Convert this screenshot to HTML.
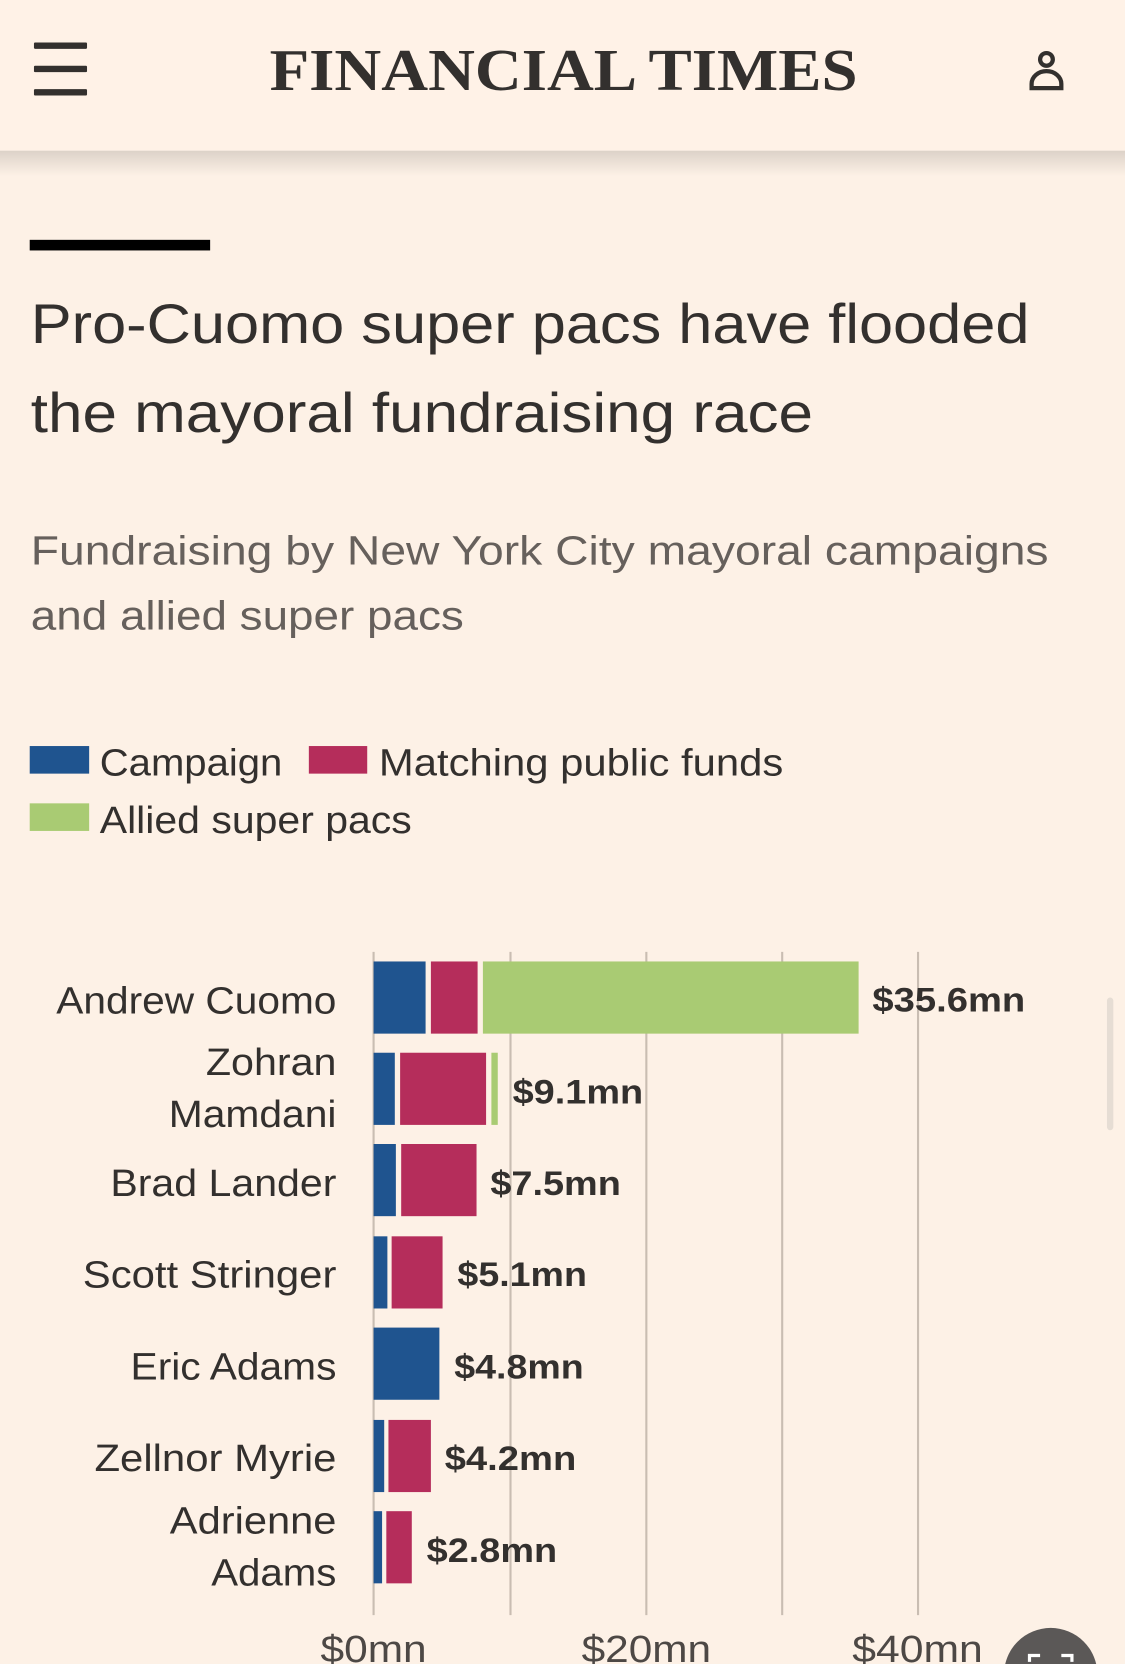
<!DOCTYPE html>
<html><head><meta charset="utf-8"><style>
html,body{margin:0;padding:0;background:#fdf1e6;}
svg{display:block;}
</style></head><body>
<svg width="1125" height="1664" viewBox="0 0 1060 1568" preserveAspectRatio="none" xmlns="http://www.w3.org/2000/svg">
<defs>
<linearGradient id="sh" x1="0" y1="0" x2="0" y2="1">
<stop offset="0" stop-color="#000" stop-opacity="0.13"/>
<stop offset="1" stop-color="#000" stop-opacity="0"/>
</linearGradient>
</defs>
<rect width="1060" height="1568" fill="#fdf1e6"/>
<rect x="0" y="0" width="1060" height="142" fill="#fff2e7"/>
<rect x="0" y="142" width="1060" height="24" fill="url(#sh)"/>
<g fill="#33302e">
<rect x="32" y="40" width="50" height="6" rx="1"/>
<rect x="32" y="62" width="50" height="6" rx="1"/>
<rect x="32" y="84" width="50" height="6" rx="1"/>
</g>
<text x="254" y="85" font-family="Liberation Serif, serif" font-weight="bold" font-size="56" fill="#33302e" textLength="554" lengthAdjust="spacingAndGlyphs">FINANCIAL TIMES</text>
<g fill="none" stroke="#33302e" stroke-width="4">
<circle cx="986" cy="56" r="6"/>
<path d="M972 83 v-4 a14 12 0 0 1 28 0 v4 z"/>
</g>
<rect x="28" y="226" width="170" height="10" fill="#000"/>
<g font-family="Liberation Sans, sans-serif" fill="#33302e" lengthAdjust="spacingAndGlyphs">
<text x="29" y="323" font-size="52" textLength="941" lengthAdjust="spacingAndGlyphs">Pro-Cuomo super pacs have flooded</text>
<text x="29" y="407" font-size="52" textLength="737" lengthAdjust="spacingAndGlyphs">the mayoral fundraising race</text>
<text x="29" y="532" font-size="38" fill="#66605c" textLength="959" lengthAdjust="spacingAndGlyphs">Fundraising by New York City mayoral campaigns</text>
<text x="29" y="593" font-size="38" fill="#66605c" textLength="408" lengthAdjust="spacingAndGlyphs">and allied super pacs</text>
</g>
<rect x="28" y="703" width="56" height="26" fill="#1f548f"/>
<rect x="291" y="703" width="55" height="26" fill="#b52d5b"/>
<rect x="28" y="757" width="56" height="26" fill="#a9cb73"/>
<g font-family="Liberation Sans, sans-serif" font-size="36" fill="#33302e">
<text x="94" y="731" textLength="172" lengthAdjust="spacingAndGlyphs">Campaign</text>
<text x="357" y="731" textLength="381" lengthAdjust="spacingAndGlyphs">Matching public funds</text>
<text x="94" y="785" textLength="294" lengthAdjust="spacingAndGlyphs">Allied super pacs</text>
</g>
<g stroke="#c9bdb2" stroke-width="2">
<line x1="352" y1="897" x2="352" y2="1522"/>
<line x1="481" y1="897" x2="481" y2="1522"/>
<line x1="609" y1="897" x2="609" y2="1522"/>
<line x1="737" y1="897" x2="737" y2="1522"/>
<line x1="865" y1="897" x2="865" y2="1522"/>
</g>
<g>
<rect x="352" y="906" width="49" height="68" fill="#1f548f"/>
<rect x="406" y="906" width="44" height="68" fill="#b52d5b"/>
<rect x="455" y="906" width="354" height="68" fill="#a9cb73"/>
<rect x="352" y="992" width="20" height="68" fill="#1f548f"/>
<rect x="377" y="992" width="81" height="68" fill="#b52d5b"/>
<rect x="463" y="992" width="6" height="68" fill="#a9cb73"/>
<rect x="352" y="1078" width="21" height="68" fill="#1f548f"/>
<rect x="378" y="1078" width="71" height="68" fill="#b52d5b"/>
<rect x="352" y="1165" width="13" height="68" fill="#1f548f"/>
<rect x="369" y="1165" width="48" height="68" fill="#b52d5b"/>
<rect x="352" y="1251" width="62" height="68" fill="#1f548f"/>
<rect x="352" y="1338" width="10" height="68" fill="#1f548f"/>
<rect x="366" y="1338" width="40" height="68" fill="#b52d5b"/>
<rect x="352" y="1424" width="8" height="68" fill="#1f548f"/>
<rect x="364" y="1424" width="24" height="68" fill="#b52d5b"/>
</g>
<g font-family="Liberation Sans, sans-serif" font-size="36" fill="#33302e">
<text x="53" y="955" textLength="264" lengthAdjust="spacingAndGlyphs">Andrew Cuomo</text>
<text x="194" y="1013" textLength="123" lengthAdjust="spacingAndGlyphs">Zohran</text>
<text x="159" y="1062" textLength="158" lengthAdjust="spacingAndGlyphs">Mamdani</text>
<text x="104" y="1127" textLength="213" lengthAdjust="spacingAndGlyphs">Brad Lander</text>
<text x="78" y="1213" textLength="239" lengthAdjust="spacingAndGlyphs">Scott Stringer</text>
<text x="123" y="1300" textLength="194" lengthAdjust="spacingAndGlyphs">Eric Adams</text>
<text x="89" y="1386" textLength="228" lengthAdjust="spacingAndGlyphs">Zellnor Myrie</text>
<text x="160" y="1445" textLength="157" lengthAdjust="spacingAndGlyphs">Adrienne</text>
<text x="199" y="1494" textLength="118" lengthAdjust="spacingAndGlyphs">Adams</text>
</g>
<g font-family="Liberation Sans, sans-serif" font-size="32" font-weight="bold" fill="#33302e">
<text x="822" y="953" textLength="144" lengthAdjust="spacingAndGlyphs">$35.6mn</text>
<text x="483" y="1040" textLength="123" lengthAdjust="spacingAndGlyphs">$9.1mn</text>
<text x="462" y="1126" textLength="123" lengthAdjust="spacingAndGlyphs">$7.5mn</text>
<text x="431" y="1212" textLength="122" lengthAdjust="spacingAndGlyphs">$5.1mn</text>
<text x="428" y="1299" textLength="122" lengthAdjust="spacingAndGlyphs">$4.8mn</text>
<text x="419" y="1385" textLength="124" lengthAdjust="spacingAndGlyphs">$4.2mn</text>
<text x="402" y="1472" textLength="123" lengthAdjust="spacingAndGlyphs">$2.8mn</text>
</g>
<g font-family="Liberation Sans, sans-serif" font-size="36" fill="#4d4845">
<text x="302" y="1566" textLength="100" lengthAdjust="spacingAndGlyphs">$0mn</text>
<text x="548" y="1566" textLength="122" lengthAdjust="spacingAndGlyphs">$20mn</text>
<text x="803" y="1566" textLength="123" lengthAdjust="spacingAndGlyphs">$40mn</text>
</g>
<rect x="1043" y="940" width="6" height="125" rx="3" fill="#e6ddd4"/>
<circle cx="990" cy="1578" r="44" fill="#5b5857"/>
<path d="M970 1566 v-6 h10 M1000 1560 h10 v6" stroke="#fff" stroke-width="3" fill="none"/>
</svg>
</body></html>
